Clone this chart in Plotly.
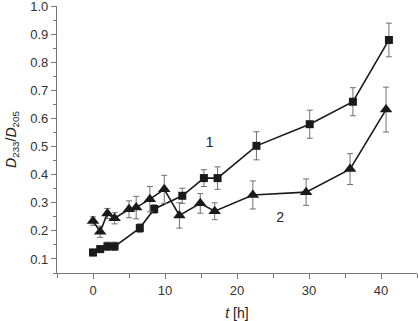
import plotly.graph_objects as go

# Series 1 (squares)
t1 = [0, 1, 2, 3, 6.5, 8.5, 12.4, 15.4, 17.3, 22.7, 30.1, 36.1, 41.1]
v1 = [0.123, 0.135, 0.145, 0.145, 0.21, 0.278, 0.325, 0.388, 0.388, 0.503, 0.58, 0.66, 0.88]
e1 = [0.012, 0.012, 0.015, 0.015, 0.015, 0.015, 0.027, 0.03, 0.04, 0.05, 0.05, 0.05, 0.06]

# Series 2 (triangles)
t2 = [0, 1, 2, 3, 5, 6, 7.9, 9.9, 12, 14.9, 16.9, 22.2, 29.6, 35.7, 40.7]
v2 = [0.235, 0.197, 0.262, 0.245, 0.277, 0.283, 0.313, 0.348, 0.255, 0.298, 0.27, 0.328, 0.338, 0.42, 0.632]
e2 = [0.015, 0.02, 0.018, 0.02, 0.03, 0.04, 0.045, 0.05, 0.045, 0.035, 0.03, 0.05, 0.047, 0.055, 0.08]

labels = ["1", "2"]
label_t = [16.2, 26.0]
label_v = [0.512, 0.245]

font_family = "Liberation Sans, Arial, sans-serif"
err_style = dict(type="data", visible=True, color="#707070", thickness=1, width=3)

fig = go.Figure()
fig.add_trace(go.Scatter(
    x=t1, y=v1, mode="lines+markers",
    error_y=dict(array=e1, **err_style),
    line=dict(color="#1a1a1a", width=1.6),
    marker=dict(symbol="square", size=8, color="#1a1a1a"),
    showlegend=False,
))
fig.add_trace(go.Scatter(
    x=t2, y=v2, mode="lines+markers",
    error_y=dict(array=e2, **err_style),
    line=dict(color="#1a1a1a", width=1.6),
    marker=dict(symbol="triangle-up", size=11, color="#1a1a1a"),
    showlegend=False,
))
fig.add_trace(go.Scatter(
    x=label_t, y=label_v, mode="text", text=labels,
    textfont=dict(family=font_family, size=14, color="#222"),
    showlegend=False, hoverinfo="skip",
))

axis_common = dict(
    showgrid=False, zeroline=False, showline=True, linecolor="#777777", linewidth=1.3,
    ticks="outside", ticklen=5, tickcolor="#777777", tickwidth=1.3,
    tickfont=dict(family=font_family, size=13, color="#333333"),
    automargin=False, ticklabeloverflow="allow",
)

fig.update_xaxes(
    range=[-5, 45], tickmode="array", tickvals=[0, 10, 20, 30, 40],
    minor=dict(tickvals=[-5, 5, 15, 25, 35, 45], ticks="outside", ticklen=4, tickcolor="#777777", tickwidth=1.3),
    title=dict(text="<i>t</i> [h]", font=dict(family=font_family, size=14, color="#222"), standoff=12),
    **axis_common,
)
fig.update_yaxes(
    range=[0.05, 1.001], tickmode="array",
    tickvals=[0.1, 0.2, 0.3, 0.4, 0.5, 0.6, 0.7, 0.8, 0.9, 1.0],
    ticktext=["0.1", "0.2", "0.3", "0.4", "0.5", "0.6", "0.7", "0.8", "0.9", "1.0"],
    minor=dict(tickvals=[0.05, 0.15, 0.25, 0.35, 0.45, 0.55, 0.65, 0.75, 0.85, 0.95], ticks="outside", ticklen=3, tickcolor="#777777", tickwidth=1.3),
    title=dict(text="<i>D</i><sub>233</sub>/<i>D</i><sub>205</sub>", font=dict(family=font_family, size=14, color="#222"), standoff=10),
    **axis_common,
)

fig.update_layout(
    width=419, height=321,
    margin=dict(l=57, r=2, t=6, b=48),
    paper_bgcolor="white", plot_bgcolor="white",
)

fig.write_html("out.html", config={"displayModeBar": False},
               post_script="document.body.style.margin='0';document.body.style.overflow='hidden';")
